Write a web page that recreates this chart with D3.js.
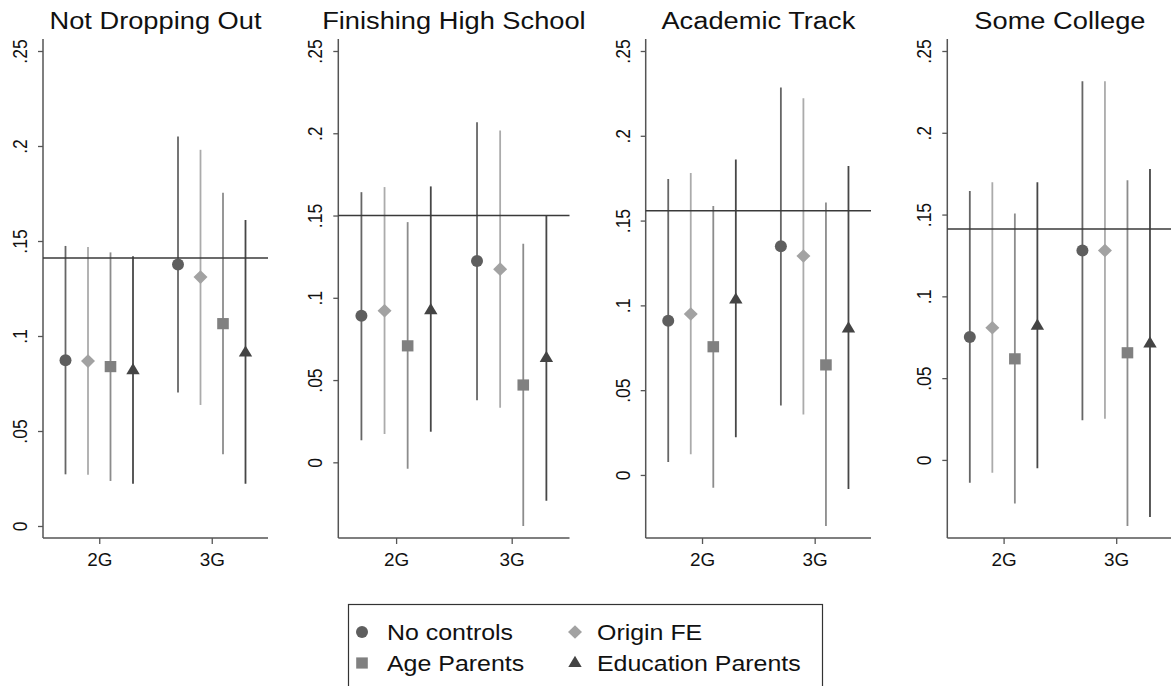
<!DOCTYPE html>
<html>
<head>
<meta charset="utf-8">
<script src="https://cdn.jsdelivr.net/npm/d3@7"></script>
<style>
  html, body { margin: 0; padding: 0; background: #fff; }
  svg { display: block; font-family: "Liberation Sans", Arial, Helvetica, sans-serif; }
</style>
</head>
<body>
<svg id="chart" width="1171" height="686"></svg>
<script>
// ---------------- data ----------------
const outcomes = ["Not Dropping Out", "Finishing High School", "Academic Track", "Some College"];
const generations = ["2G", "3G"];
const specs = ["No controls", "Origin FE", "Age Parents", "Education Parents"];
const yTickValues = [0, 0.05, 0.1, 0.15, 0.2, 0.25];
const yTickLabels = ["0", ".05", ".1", ".15", ".2", ".25"];

// point estimates: [2G row, 3G row], each row in order of specs
const estDropout = [[0.0872, 0.0868, 0.0839, 0.0825], [0.1376, 0.1310, 0.1065, 0.0918]];
const loDropout  = [[0.0272, 0.0270, 0.0237, 0.0223], [0.0702, 0.0637, 0.0377, 0.0223]];
const hiDropout  = [[0.1474, 0.1468, 0.1440, 0.1420], [0.2050, 0.1980, 0.1754, 0.1610]];

const estHighSchool = [[0.0891, 0.0921, 0.0708, 0.0930], [0.1223, 0.1174, 0.0470, 0.0640]];
const loHighSchool  = [[0.0134, 0.0172, -0.0039, 0.0186], [0.0377, 0.0332, -0.0387, -0.0233]];
const hiHighSchool  = [[0.1642, 0.1673, 0.1460, 0.1677], [0.2067, 0.2017, 0.1328, 0.1500]];

const estAcademic = [[0.0909, 0.0949, 0.0756, 0.1040], [0.1348, 0.1291, 0.0649, 0.0870]];
const loAcademic  = [[0.0077, 0.0122, -0.0075, 0.0222], [0.0409, 0.0356, -0.0301, -0.0083]];
const hiAcademic  = [[0.1745, 0.1780, 0.1586, 0.1860], [0.2285, 0.2221, 0.1606, 0.1822]];

const estCollege = [[0.0751, 0.0808, 0.0618, 0.0826], [0.1281, 0.1280, 0.0655, 0.0718]];
const loCollege  = [[-0.0139, -0.0078, -0.0267, -0.0051], [0.0243, 0.0251, -0.0404, -0.0349]];
const hiCollege  = [[0.1644, 0.1697, 0.1507, 0.1697], [0.2315, 0.2315, 0.1710, 0.1778]];

// horizontal reference (baseline) value per outcome
const refValues = [0.1410, 0.1500, 0.1558, 0.1412];

// x offset of each specification within a generation
const specOffsets = [-0.3, -0.1, 0.1, 0.3];

// ---------------- layout / style ----------------
const panelEst = [estDropout, estHighSchool, estAcademic, estCollege];
const panelLo  = [loDropout, loHighSchool, loAcademic, loCollege];
const panelHi  = [hiDropout, hiHighSchool, hiAcademic, hiCollege];

const panelX = [[43, 268], [338.3, 569.5], [645.7, 871], [947.3, 1172.5]];
const axisTop = 39, axisBottom = 538;
const innerTop = 51, innerBottom = 526;

const markerColors = ["#5e5e5e", "#a2a2a2", "#808080", "#444444"];
const lineColors   = ["#666666", "#ababab", "#8c8c8c", "#474747"];
const axisColor = "#555555";
const textStretch = 1.16;

const svg = d3.select("#chart");
svg.append("rect").attr("width", 1171).attr("height", 686).attr("fill", "#fff");

function markerPath(kind) {
  const p = d3.path();
  if (kind === 0) {          // circle
    p.arc(0, 0, 6, 0, 2 * Math.PI);
  } else if (kind === 1) {   // diamond
    p.moveTo(0, -6.8); p.lineTo(7, 0); p.lineTo(0, 6.8); p.lineTo(-7, 0); p.closePath();
  } else if (kind === 2) {   // square
    p.rect(-5.8, -5.6, 11.6, 11.2);
  } else {                   // triangle
    p.moveTo(0, -6.2); p.lineTo(6.7, 5); p.lineTo(-6.7, 5); p.closePath();
  }
  return p.toString();
}

outcomes.forEach((title, pi) => {
  const est = panelEst[pi], lo = panelLo[pi], hi = panelHi[pi];
  const minLo = Math.min(0, d3.min(lo.flat()));
  const x = d3.scaleLinear().domain([0.5, 2.5]).range(panelX[pi]);
  const y = d3.scaleLinear().domain([minLo, 0.25]).range([innerBottom, innerTop]);
  const g = svg.append("g");
  const [x0, x1] = panelX[pi];

  // title
  g.append("text")
    .attr("transform", `translate(${(x0 + x1) / 2},29) scale(${textStretch},1)`)
    .attr("text-anchor", "middle")
    .attr("font-size", 23.5)
    .attr("fill", "#111")
    .text(title);

  // y axis
  const yAxis = d3.axisLeft(y).tickValues(yTickValues).tickSize(5)
    .tickFormat((d, i) => yTickLabels[i]);
  const ya = g.append("g").attr("transform", `translate(${x0},0)`).call(yAxis);
  ya.select(".domain").remove();
  ya.selectAll(".tick line").attr("stroke", axisColor).attr("stroke-width", 1.3);
  ya.selectAll(".tick text")
    .attr("x", null).attr("dy", null)
    .attr("transform", `translate(-16,0) scale(${textStretch},1) rotate(-90)`)
    .attr("text-anchor", "middle")
    .attr("font-size", 17.5)
    .attr("font-family", "Liberation Sans, Arial, sans-serif")
    .attr("fill", "#111");
  g.append("line").attr("x1", x0).attr("x2", x0).attr("y1", axisTop).attr("y2", axisBottom)
    .attr("stroke", axisColor).attr("stroke-width", 1.5);

  // x axis
  const xAxis = d3.axisBottom(x).tickValues([1, 2]).tickSize(6)
    .tickFormat((d, i) => generations[i]);
  const xa = g.append("g").attr("transform", `translate(0,${axisBottom})`).call(xAxis);
  xa.select(".domain").remove();
  xa.selectAll(".tick line").attr("stroke", axisColor).attr("stroke-width", 1.3);
  xa.selectAll(".tick text")
    .attr("y", null).attr("dy", null)
    .attr("transform", `translate(0,28) scale(1.08,1)`)
    .attr("text-anchor", "middle")
    .attr("font-size", 17.5)
    .attr("font-family", "Liberation Sans, Arial, sans-serif")
    .attr("fill", "#111");
  g.append("line").attr("x1", x0).attr("x2", x1).attr("y1", axisBottom).attr("y2", axisBottom)
    .attr("stroke", axisColor).attr("stroke-width", 1.5);

  // build records
  const recs = [];
  generations.forEach((gen, gi) => {
    specs.forEach((s, si) => {
      recs.push({gi, si, xv: gi + 1 + specOffsets[si], est: est[gi][si], lo: lo[gi][si], hi: hi[gi][si]});
    });
  });

  // confidence intervals
  g.selectAll("line.ci").data(recs).enter().append("line")
    .attr("class", "ci")
    .attr("x1", d => x(d.xv)).attr("x2", d => x(d.xv))
    .attr("y1", d => y(d.lo)).attr("y2", d => y(d.hi))
    .attr("stroke", d => lineColors[d.si]).attr("stroke-width", 1.8);

  // reference line
  g.append("line").attr("x1", x0).attr("x2", x1)
    .attr("y1", y(refValues[pi])).attr("y2", y(refValues[pi]))
    .attr("stroke", "#3a3a3a").attr("stroke-width", 1.5);

  // markers
  g.selectAll("path.mk").data(recs).enter().append("path")
    .attr("class", "mk")
    .attr("transform", d => `translate(${x(d.xv)},${y(d.est)})`)
    .attr("d", d => markerPath(d.si))
    .attr("fill", d => markerColors[d.si]);
});

// ---------------- legend ----------------
const lg = svg.append("g");
lg.append("rect").attr("x", 348.5).attr("y", 604.5).attr("width", 474).attr("height", 100)
  .attr("fill", "#fff").attr("stroke", "#333").attr("stroke-width", 1.2);
const legendPos = [[362, 632, 387, 640], [575, 632, 597, 640], [362, 663, 387, 671], [575, 662, 597, 671]];
specs.forEach((s, si) => {
  const [mx, my, tx, ty] = legendPos[si];
  lg.append("path").attr("transform", `translate(${mx},${my})`)
    .attr("d", markerPath(si)).attr("fill", markerColors[si]);
  lg.append("text")
    .attr("transform", `translate(${tx},${ty}) scale(${textStretch},1)`)
    .attr("font-size", 21.5).attr("fill", "#111").text(s);
});
</script>
</body>
</html>
